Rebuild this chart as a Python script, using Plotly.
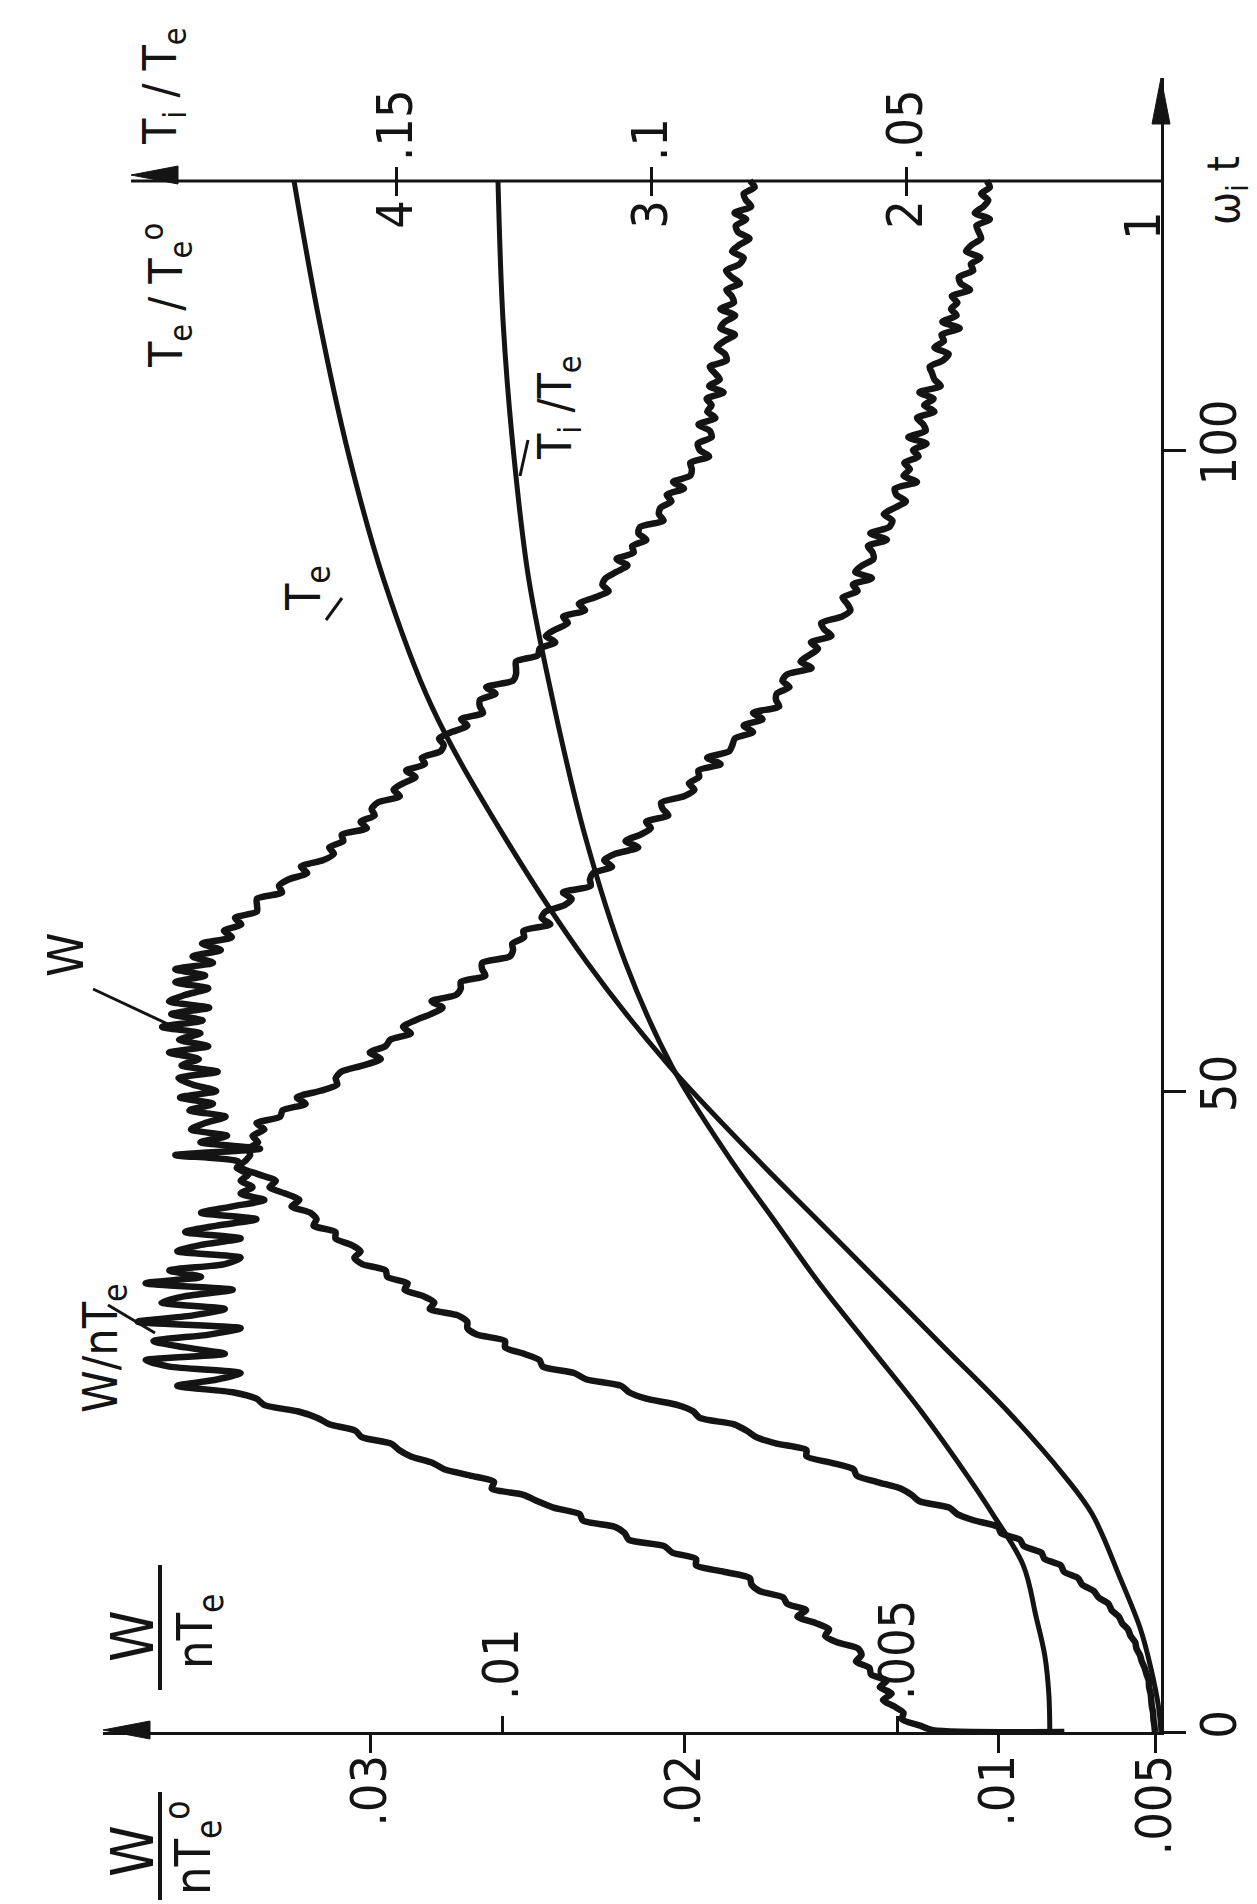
import plotly.graph_objects as go

# ---------------- data ----------------
# omega_i t sampling of the noisy traces (every half unit)
t_W = [i * 0.5 for i in range(243)]
# W / (n Te0)  (outer scale)
W_over_nTe0 = [
    # t = 0 .. 16.5
    .00500, .00502, .00505, .00506, .00510, .00512, .00514, .00519, .00520, .00527,
    .00533, .00542, .00548, .00559, .00563, .00578, .00586, .00605, .00615, .00638,
    .00648, .00680, .00695, .00732, .00745, .00790, .00800, .00852, .00862, .00918,
    .00930, .00990, .01000, .01075,
    # t = 17 .. 45
    .01130, .01155, .01250, .01275, .01310, .01385, .01450, .01460, .01530, .01610,
    .01610, .01705, .01770, .01800, .01840, .01950, .01970, .02020, .02120, .02175,
    .02200, .02310, .02350, .02450, .02460, .02510, .02570, .02570, .02660, .02690,
    .02690, .02720, .02810, .02795, .02830, .02890, .02880, .02945, .02950, .03025,
    .03050, .03030, .03060, .03110, .03110, .03180, .03170, .03190, .03250, .03225,
    .03270, .03320, .03300, .03355, .03410, .03420, .03620,
    # t = 45.5 .. 62
    .03350, .03540, .03455, .03570, .03525, .03460, .03575, .03500, .03605, .03490,
    .03565, .03610, .03485, .03600, .03545, .03640, .03515, .03608, .03540, .03662,
    .03533, .03633, .03512, .03640, .03588, .03515, .03620, .03525, .03620, .03500,
    .03565, .03475, .03535, .03440,
    # t = 62.5 .. 121
    .03465, .03410, .03430, .03360, .03360, .03360, .03280, .03290, .03260, .03200,
    .03220, .03150, .03115, .03130, .03085, .03090, .03010, .03030, .02985, .02995,
    .02975, .02905, .02925, .02895, .02855, .02885, .02825, .02835, .02775, .02765,
    .02780, .02740, .02690, .02710, .02640, .02650, .02650, .02600, .02630, .02545,
    .02535, .02535, .02535, .02465, .02460, .02410, .02440, .02410, .02370, .02385,
    .02315, .02335, .02285, .02240, .02260, .02250, .02215, .02180, .02215, .02160,
    .02165, .02120, .02145, .02140, .02065, .02080, .02075, .02040, .02055, .02000,
    .02035, .01980, .01975, .01980, .01920, .01950, .01956, .01912, .01918, .01954,
    .01900, .01926, .01912, .01928, .01874, .01920, .01886, .01902, .01918, .01864,
    .01870, .01896, .01872, .01838, .01884, .01870, .01837, .01884, .01841, .01848,
    .01865, .01822, .01849, .01866, .01823, .01810, .01847, .01824, .01791, .01828,
    .01835, .01802, .01839, .01786, .01803, .01810, .01775, .01790,
]

# W / (n Te)  (inner scale)
t_Wn = [0, 0.15] + [i * 0.5 for i in range(1, 243)]
W_over_nTe = [
    # t = 0, 0.15, 0.5
    .00290, .00456, .00472,
    # t = 1 .. 26
    .00495, .00493, .00505, .00519, .00508, .00523, .00514, .00534, .00536, .00553,
    .00546, .00550, .00577, .00592, .00587, .00604, .00627, .00616, .00640, .00645,
    .00675, .00685, .00687, .00720, .00755, .00755, .00785, .00795, .00840, .00845,
    .00857, .00898, .00902, .00935, .00955, .00973, .01013, .01010, .01040, .01073,
    .01088, .01115, .01130, .01140, .01177, .01185, .01218, .01233, .01257, .01300,
    .01310,
    # t = 26.5 .. 42
    .01340, .01410, .01360, .01330, .01420, .01450, .01350, .01400, .01440, .01370,
    .01330, .01460, .01390, .01350, .01430, .01400, .01340, .01450, .01380, .01420,
    .01350, .01330, .01410, .01380, .01330, .01400, .01360, .01310, .01380, .01340,
    .01300, .01330,
    # t = 42.5 .. 47
    .01315, .01330, .01320, .01335, .01325, .01318, .01320, .01308, .01315, .01300,
    # t = 47.5 .. 121
    .01310, .01280, .01277, .01248, .01259, .01230, .01208, .01210, .01203, .01175,
    .01153, .01167, .01147, .01141, .01115, .01125, .01110, .01090, .01075, .01089,
    .01058, .01052, .01052, .01021, .01025, .01025, .00990, .00986, .00987, .00972,
    .00973, .00939, .00950, .00945, .00921, .00912, .00923, .00888, .00889, .00885,
    .00861, .00871, .00857, .00828, .00844, .00825, .00812, .00818, .00790, .00797,
    .00799, .00770, .00757, .00764, .00751, .00752, .00724, .00741, .00713, .00709,
    .00706, .00683, .00695, .00671, .00683, .00650, .00654, .00653, .00637, .00646,
    .00640, .00609, .00623, .00612, .00601, .00610, .00584, .00593, .00597, .00571,
    .00560, .00564, .00570, .00551, .00557, .00533, .00554, .00545, .00531, .00532,
    .00538, .00514, .00535, .00511, .00507, .00518, .00504, .00490, .00502, .00504,
    .00476, .00493, .00485, .00492, .00474, .00481, .00464, .00487, .00465, .00468,
    .00476, .00454, .00467, .00455, .00473, .00446, .00454, .00457, .00460, .00443,
    .00436, .00454, .00442, .00445, .00422, .00444, .00426, .00433, .00425, .00432,
    .00409, .00421, .00423, .00405, .00408, .00396, .00414, .00407, .00395, .00398,
    .00401, .00384, .00403, .00392, .00386, .00395, .00384, .00388,
]

# Te / Te0
t_Te = [0, 2, 5, 8, 12, 17, 20, 25, 30, 35, 40, 45, 52, 60, 70, 80, 90, 100, 110, 121]
Te_over_Te0 = [1.0, 1.01, 1.04, 1.08, 1.16, 1.27, 1.38, 1.6, 1.85, 2.1, 2.35, 2.6, 2.93,
               3.25, 3.58, 3.86, 4.05, 4.19, 4.30, 4.40]

# Ti / Te
t_Ti = [0, 3, 6, 9, 13, 17, 20, 25, 30, 35, 40, 45, 52, 60, 70, 80, 90, 100, 110, 121]
Ti_over_Te = [0.0218, 0.0220, 0.0228, 0.0245, 0.0270, 0.0330, 0.0380, 0.047, 0.057, 0.067,
              0.076, 0.085, 0.096, 0.105, 0.113, 0.119, 0.124, 0.127, 0.129, 0.130]

assert len(t_W) == len(W_over_nTe0), (len(t_W), len(W_over_nTe0))
assert len(t_Wn) == len(W_over_nTe), (len(t_Wn), len(W_over_nTe))

# tick labels
W0_ticks = [0.005, 0.01, 0.02, 0.03]
W0_ticktext = [".005", ".01", ".02", ".03"]
Wn_ticks = [0.005, 0.01]
Wn_ticktext = [".005", ".01"]
Te_ticks = [2, 3, 4]
Te_ticktext = ["2", "3", "4"]
Ti_ticks = [0.05, 0.1, 0.15]
Ti_ticktext = [".05", ".1", ".15"]
t_ticks = [0, 50, 100]
t_ticktext = ["0", "50", "100"]

# ---------------- layout geometry ----------------
WIDTH, HEIGHT = 1257, 1904
ML, MR, MT, MB = 95, 104, 70, 180
PW = WIDTH - ML - MR
PH = HEIGHT - MT - MB


def px(x):
    return (x - ML) / PW


def py(y):
    return (HEIGHT - MB - y) / PH


FONT = "Liberation Sans Narrow, DejaVu Sans Condensed, Arial Narrow, Liberation Sans, sans-serif"
INK = "#141414"
TOP_POS = py(173)

fig = go.Figure()

fig.add_trace(go.Scatter(x=W_over_nTe0, y=t_W, mode="lines", xaxis="x", yaxis="y",
                         line=dict(color=INK, width=6.5, shape="spline", smoothing=0.7)))
fig.add_trace(go.Scatter(x=W_over_nTe, y=t_Wn, mode="lines", xaxis="x2", yaxis="y",
                         line=dict(color=INK, width=6.5, shape="spline", smoothing=0.7)))
fig.add_trace(go.Scatter(x=Te_over_Te0, y=t_Te, mode="lines", xaxis="x3", yaxis="y",
                         line=dict(color=INK, width=5, shape="spline", smoothing=1.0)))
fig.add_trace(go.Scatter(x=Ti_over_Te, y=t_Ti, mode="lines", xaxis="x4", yaxis="y",
                         line=dict(color=INK, width=5, shape="spline", smoothing=1.0)))

tickfont = dict(family=FONT, size=50, color=INK)
common = dict(showgrid=False, zeroline=False, tickangle=-90, tickfont=tickfont,
              tickcolor=INK, tickwidth=3, tickmode="array")

fig.update_layout(
    width=WIDTH, height=HEIGHT,
    margin=dict(l=ML, r=MR, t=MT, b=MB, autoexpand=False),
    paper_bgcolor="white", plot_bgcolor="white",
    showlegend=False,
    xaxis=dict(domain=[0, 1], range=[0.038503, 0.004809], anchor="y", side="bottom",
               showline=True, linecolor=INK, linewidth=3, ticks="outside", ticklen=18,
               tickvals=W0_ticks, ticktext=W0_ticktext, ticklabelstandoff=-18, **common),
    xaxis2=dict(overlaying="x", range=[0.015038, 0.001679], anchor="free", position=0,
                side="top", showline=False, ticks="outside", ticklen=16,
                tickvals=Wn_ticks, ticktext=Wn_ticktext, ticklabelstandoff=6, **common),
    xaxis3=dict(overlaying="x", range=[5.149, 1.0], anchor="free", position=TOP_POS,
                side="bottom", showline=False, ticks="outside", ticklen=14,
                tickvals=Te_ticks, ticktext=Te_ticktext, ticklabelstandoff=-16, **common),
    xaxis4=dict(overlaying="x", range=[0.20745, 0.0], anchor="free", position=TOP_POS,
                side="top", showline=False, ticks="outside", ticklen=14,
                tickvals=Ti_ticks, ticktext=Ti_ticktext, ticklabelstandoff=-4, **common),
    yaxis=dict(domain=[0, 1], range=[0, 129.02], anchor="x", side="right",
               showline=True, linecolor=INK, linewidth=3, ticks="outside", ticklen=22,
               tickvals=t_ticks, ticktext=t_ticktext, ticklabelstandoff=-10, **common),
)

shapes = []
# top axis line (T scales)
shapes.append(dict(type="line", xref="paper", yref="paper", x0=px(123), x1=1.0,
                   y0=TOP_POS, y1=TOP_POS, line=dict(color=INK, width=3)))
# arrowheads
shapes.append(dict(type="path", xref="paper", yref="paper",
                   path=f"M {px(95)} {py(1722)} L {px(142)} {py(1713)} L {px(142)} {py(1731)} Z",
                   fillcolor=INK, line=dict(color=INK, width=1)))
shapes.append(dict(type="path", xref="paper", yref="paper",
                   path=f"M {px(123)} {py(167)} L {px(170)} {py(158)} L {px(170)} {py(176)} Z",
                   fillcolor=INK, line=dict(color=INK, width=1)))
shapes.append(dict(type="path", xref="paper", yref="paper",
                   path=f"M {px(1153)} {py(70)} L {px(1144)} {py(116)} L {px(1162)} {py(116)} Z",
                   fillcolor=INK, line=dict(color=INK, width=1)))
# fraction bars of axis titles
shapes.append(dict(type="line", xref="paper", yref="paper", x0=px(152), x1=px(152),
                   y0=py(1557), y1=py(1682), line=dict(color=INK, width=4)))
shapes.append(dict(type="line", xref="paper", yref="paper", x0=px(152), x1=px(152),
                   y0=py(1784), y1=py(1892), line=dict(color=INK, width=4)))
# curve label pointers
for (x0, y0, x1, y1) in [(85, 981, 164, 1018), (100, 1297, 147, 1325),
                         (318, 612, 334, 590), (512, 468, 520, 432)]:
    shapes.append(dict(type="line", xref="paper", yref="paper", x0=px(x0), x1=px(x1),
                       y0=py(y0), y1=py(y1), line=dict(color=INK, width=3)))
fig.update_layout(shapes=shapes)

ann = []


def label(text, x, y, size=48):
    ann.append(dict(text=text, x=px(x), y=py(y), xref="paper", yref="paper",
                    showarrow=False, textangle=-90, xanchor="center", yanchor="middle",
                    font=dict(family=FONT, size=size, color=INK)))


label("T<sub>i</sub> / T<sub>e</sub>", 155, 78, 46)
label("T<sub>e</sub> / T<sub>e</sub><sup>o</sup>", 158, 288, 46)
label("ω<sub>i</sub> t", 1218, 183, 44)
label("W", 125, 1628, 58)
label("nT<sub>e</sub>", 190, 1624, 50)
label("W", 125, 1843, 58)
label("nT<sub>e</sub><sup>o</sup>", 185, 1840, 50)
label("1", 1135, 218, 50)
label("T<sub>e</sub>", 298, 580, 48)
label("T<sub>i</sub> /T<sub>e</sub>", 550, 400, 46)
label("W", 58, 947, 50)
label("W/nT<sub>e</sub>", 95, 1340, 48)
fig.update_layout(annotations=ann)

fig.write_html("out.html")
